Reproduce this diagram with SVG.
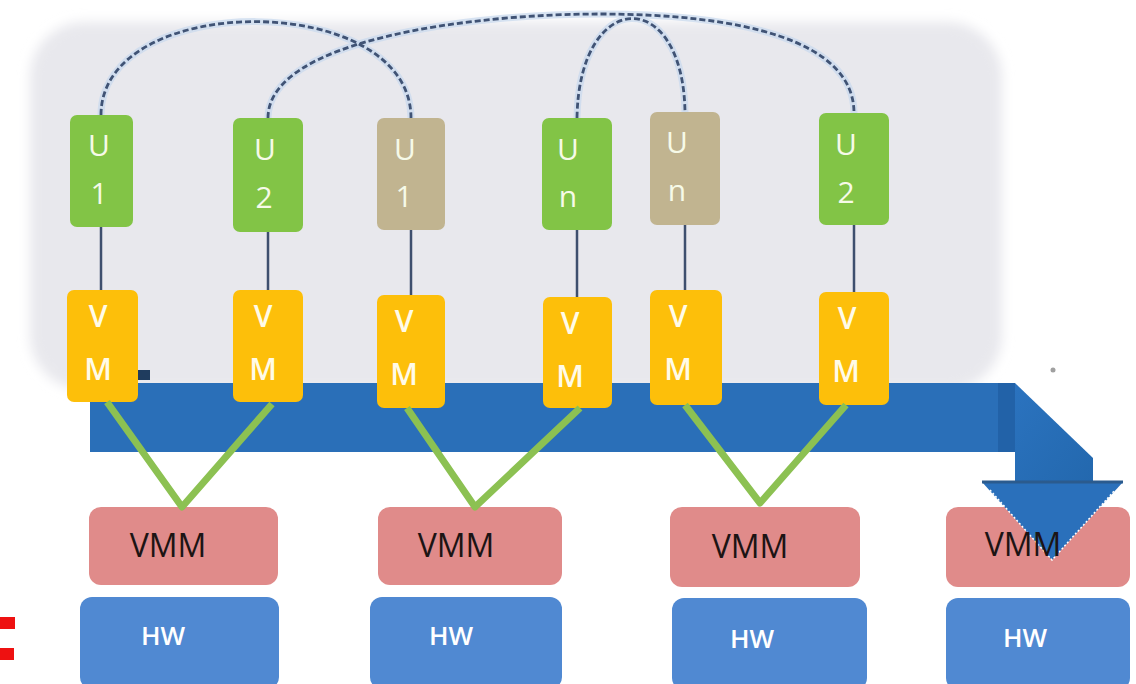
<svg xmlns="http://www.w3.org/2000/svg" width="1136" height="684" viewBox="0 0 1136 684">
  <defs>
    <filter id="soft" x="-10%" y="-10%" width="120%" height="120%">
      <feGaussianBlur stdDeviation="6"/>
    </filter>
    <filter id="glow" x="-5%" y="-5%" width="110%" height="110%">
      <feGaussianBlur stdDeviation="0.6"/>
    </filter>
    <linearGradient id="bend" x1="0" y1="0" x2="1" y2="1">
      <stop offset="0" stop-color="#2b73bf"/>
      <stop offset="1" stop-color="#2368ae"/>
    </linearGradient>
  </defs>
  <style>
    .u-green { fill: #82c446; }
    .u-tan { fill: #c1b490; }
    .vm { fill: #fdbf0a; }
    .vmm { fill: #e08b8a; }
    .hw { fill: #5089d2; }
    .lbl-u { font-family: "Open Sans", "Liberation Sans", sans-serif; font-size: 30px; fill: #f6fae8; text-anchor: middle; }
    .lbl-vm { font-family: "Open Sans", "Liberation Sans", sans-serif; font-size: 30px; font-weight: 600; fill: #fffbe8; text-anchor: middle; }
    .lbl-vmm { font-family: "Open Sans", "Liberation Sans", sans-serif; font-size: 32px; fill: #1c1414; text-anchor: middle; }
    .lbl-hw { font-family: "Open Sans", "Liberation Sans", sans-serif; font-size: 26px; font-weight: 600; fill: #ffffff; text-anchor: middle; }
    .link { stroke: #3e4f6e; stroke-width: 2.5; fill: none; }
    .arc-halo { stroke: #c8d8ee; stroke-width: 7; fill: none; opacity: 0.7; }
    .arc { stroke: #3f5274; stroke-width: 2.8; stroke-dasharray: 6 3; fill: none; }
    .vee { stroke: #8cc152; stroke-width: 7; fill: none; stroke-linejoin: round; }
  </style>

  <rect width="1136" height="684" fill="#ffffff"/>

  <!-- shared grey background panel -->
  <rect x="30" y="22" width="972" height="368" rx="55" fill="#e8e8ed" filter="url(#soft)"/>

  <!-- connectors -->
  <g id="connectors">
    <g id="dashed-links" filter="url(#glow)">
      <path class="arc-halo" d="M101,115 C101,-10 411,-10 411,118"/>
      <path class="arc-halo" d="M268,118 C268,40 470,14 600,14 C740,14 854,40 854,113"/>
      <path class="arc-halo" d="M577,118 C579,-12 683,-15 685,112"/>
      <path class="arc" d="M101,115 C101,-10 411,-10 411,118"/>
      <path class="arc" d="M268,118 C268,40 470,14 600,14 C740,14 854,40 854,113"/>
      <path class="arc" d="M577,118 C579,-12 683,-15 685,112"/>
    </g>
    <g id="user-vm-links">
      <line class="link" x1="101" y1="227" x2="101" y2="290"/>
      <line class="link" x1="268" y1="232" x2="268" y2="290"/>
      <line class="link" x1="411" y1="230" x2="411" y2="295"/>
      <line class="link" x1="577" y1="230" x2="577" y2="297"/>
      <line class="link" x1="685" y1="225" x2="685" y2="290"/>
      <line class="link" x1="854" y1="225" x2="854" y2="292"/>
    </g>
  </g>

  <!-- user nodes -->
  <g id="u1-a"><rect class="u-green" x="70" y="115" width="63" height="112" rx="7"/><text class="lbl-u" x="99" y="156">U</text><text class="lbl-u" x="99" y="204">1</text></g>
  <g id="u2-a"><rect class="u-green" x="233" y="118" width="70" height="114" rx="7"/><text class="lbl-u" x="265" y="160">U</text><text class="lbl-u" x="264" y="208">2</text></g>
  <g id="u1-b"><rect class="u-tan" x="377" y="118" width="68" height="112" rx="7"/><text class="lbl-u" x="405" y="160">U</text><text class="lbl-u" x="404" y="207">1</text></g>
  <g id="un-a"><rect class="u-green" x="542" y="118" width="70" height="112" rx="7"/><text class="lbl-u" x="568" y="160">U</text><text class="lbl-u" x="568" y="207">n</text></g>
  <g id="un-b"><rect class="u-tan" x="650" y="112" width="70" height="113" rx="7"/><text class="lbl-u" x="677" y="153">U</text><text class="lbl-u" x="677" y="201">n</text></g>
  <g id="u2-b"><rect class="u-green" x="819" y="113" width="70" height="112" rx="7"/><text class="lbl-u" x="846" y="155">U</text><text class="lbl-u" x="846" y="203">2</text></g>

  <!-- hypervisor and hardware stacks -->
  <g id="host1">
    <rect class="vmm" x="89" y="507" width="189" height="78" rx="12"/>
    <text class="lbl-vmm" x="168" y="557">VMM</text>
    <rect class="hw" x="80" y="597" width="199" height="92" rx="12"/>
    <text class="lbl-hw" x="163" y="645">HW</text>
  </g>
  <g id="host2">
    <rect class="vmm" x="378" y="507" width="184" height="78" rx="12"/>
    <text class="lbl-vmm" x="456" y="557">VMM</text>
    <rect class="hw" x="370" y="597" width="192" height="92" rx="12"/>
    <text class="lbl-hw" x="451" y="645">HW</text>
  </g>
  <g id="host3">
    <rect class="vmm" x="670" y="507" width="190" height="80" rx="12"/>
    <text class="lbl-vmm" x="750" y="558">VMM</text>
    <rect class="hw" x="672" y="598" width="195" height="92" rx="12"/>
    <text class="lbl-hw" x="752" y="648">HW</text>
  </g>
  <g id="host4">
    <rect class="vmm" x="946" y="507" width="184" height="80" rx="12"/>
    <rect class="hw" x="946" y="598" width="184" height="92" rx="12"/>
    <text class="lbl-hw" x="1025" y="647">HW</text>
  </g>

  <!-- migration arrow -->
  <g id="migration-arrow">
    <path d="M90,383 L1015,383 L1015,452 L90,452 Z" fill="#2a6fb8"/>
    <rect x="998" y="383" width="17" height="69" fill="#2262a8"/>
    <path d="M1015,383 L1093,458 L1093,482 L1015,482 Z" fill="url(#bend)"/>
    <path d="M982,482 L1123,482 L1052,560 Z" fill="#2a70bb"/>
    <path d="M990,490 L1052,560 L1115,490" fill="none" stroke="#ffffff" stroke-width="1.5" stroke-dasharray="2 2"/>
    <path d="M982,482 L1123,482" stroke="#2b5b8e" stroke-width="3"/>
    <rect x="138" y="370" width="12" height="10" fill="#1f3c5e"/>
    <circle cx="1053" cy="370" r="2.5" fill="#a0a0a0"/>
  </g>
  <text class="lbl-vmm" x="1023" y="556">VMM</text>

  <!-- virtual machines -->
  <g id="vm1"><rect class="vm" x="67" y="290" width="71" height="112" rx="7"/><text class="lbl-vm" x="98" y="327">V</text><text class="lbl-vm" x="98" y="380">M</text></g>
  <g id="vm2"><rect class="vm" x="233" y="290" width="70" height="112" rx="7"/><text class="lbl-vm" x="263" y="327">V</text><text class="lbl-vm" x="263" y="380">M</text></g>
  <g id="vm3"><rect class="vm" x="377" y="295" width="68" height="113" rx="7"/><text class="lbl-vm" x="404" y="332">V</text><text class="lbl-vm" x="404" y="385">M</text></g>
  <g id="vm4"><rect class="vm" x="543" y="297" width="69" height="111" rx="7"/><text class="lbl-vm" x="570" y="334">V</text><text class="lbl-vm" x="570" y="387">M</text></g>
  <g id="vm5"><rect class="vm" x="650" y="290" width="72" height="115" rx="7"/><text class="lbl-vm" x="678" y="327">V</text><text class="lbl-vm" x="678" y="380">M</text></g>
  <g id="vm6"><rect class="vm" x="819" y="292" width="70" height="113" rx="7"/><text class="lbl-vm" x="847" y="329">V</text><text class="lbl-vm" x="846" y="382">M</text></g>

  <!-- VM to VMM links -->
  <g id="vm-vmm-links">
    <path class="vee" d="M107,402 L182,507 L272,404"/>
    <path class="vee" d="M407,408 L475,507 L580,408"/>
    <path class="vee" d="M685,405 L760,503 L846,405"/>
  </g>

  <!-- red fragment at the left border -->
  <rect x="0" y="617" width="15" height="12" fill="#ee1111"/>
  <rect x="0" y="648" width="14" height="12" fill="#ee1111"/>
</svg>
